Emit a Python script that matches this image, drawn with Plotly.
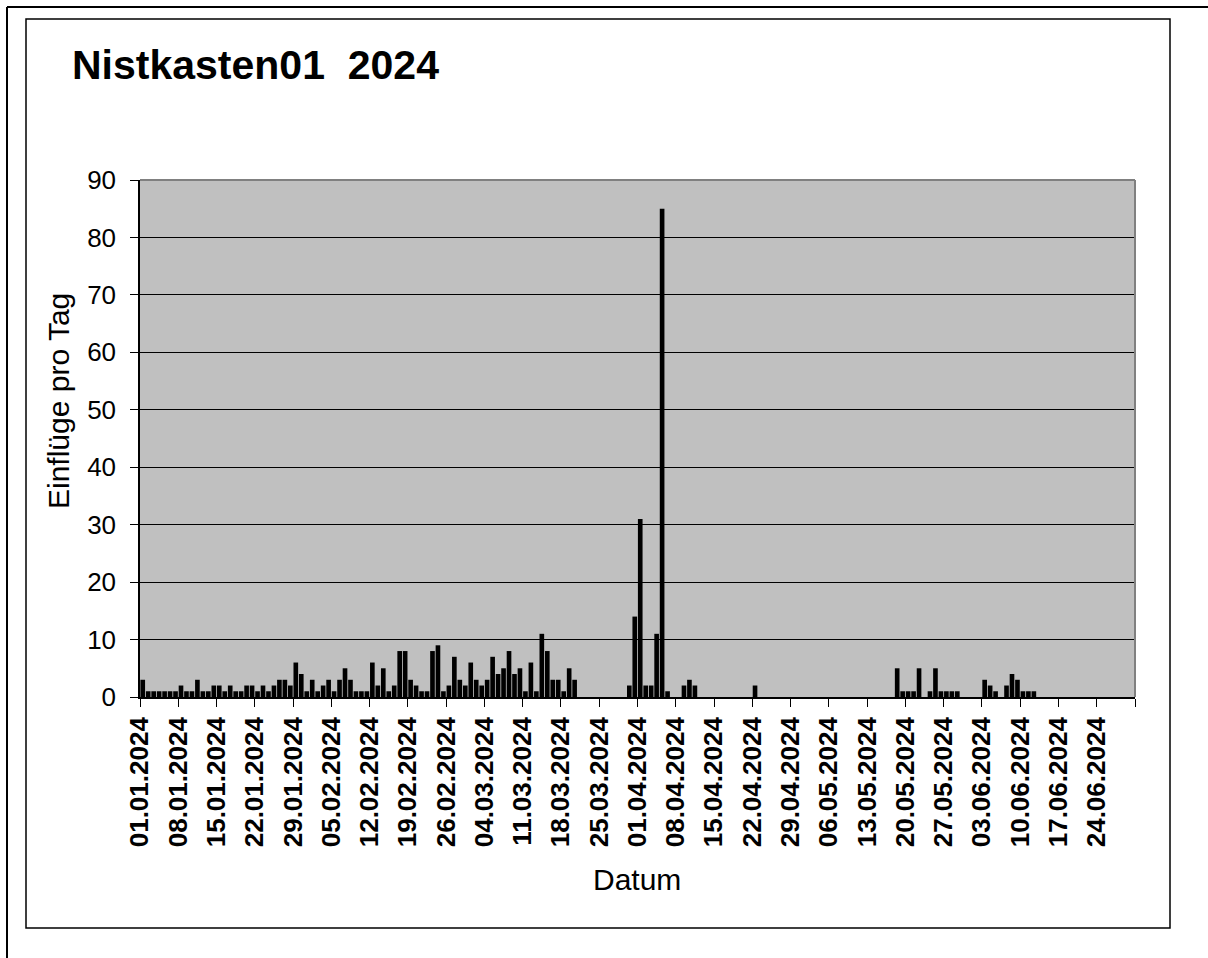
import plotly.graph_objects as go
from datetime import datetime

# Daily counts (days without a bar are 0)
DATES = [
    "2024-01-01", "2024-01-02", "2024-01-03", "2024-01-04", "2024-01-05", "2024-01-06", "2024-01-07",
    "2024-01-08", "2024-01-09", "2024-01-10", "2024-01-11", "2024-01-12", "2024-01-13", "2024-01-14",
    "2024-01-15", "2024-01-16", "2024-01-17", "2024-01-18", "2024-01-19", "2024-01-20", "2024-01-21",
    "2024-01-22", "2024-01-23", "2024-01-24", "2024-01-25", "2024-01-26", "2024-01-27", "2024-01-28",
    "2024-01-29", "2024-01-30", "2024-01-31",
    "2024-02-01", "2024-02-02", "2024-02-03", "2024-02-04", "2024-02-05", "2024-02-06", "2024-02-07",
    "2024-02-08", "2024-02-09", "2024-02-10", "2024-02-11", "2024-02-12", "2024-02-13", "2024-02-14",
    "2024-02-15", "2024-02-16", "2024-02-17", "2024-02-18", "2024-02-19", "2024-02-20", "2024-02-21",
    "2024-02-22", "2024-02-23", "2024-02-24", "2024-02-25", "2024-02-26", "2024-02-27", "2024-02-28",
    "2024-02-29",
    "2024-03-01", "2024-03-02", "2024-03-03", "2024-03-04", "2024-03-05", "2024-03-06", "2024-03-07",
    "2024-03-08", "2024-03-09", "2024-03-10", "2024-03-11", "2024-03-12", "2024-03-13", "2024-03-14",
    "2024-03-15", "2024-03-16", "2024-03-17", "2024-03-18", "2024-03-19", "2024-03-20",
    "2024-03-30", "2024-03-31",
    "2024-04-01", "2024-04-02", "2024-04-03", "2024-04-04", "2024-04-05", "2024-04-06",
    "2024-04-09", "2024-04-10", "2024-04-11", "2024-04-22",
    "2024-05-18", "2024-05-19", "2024-05-20", "2024-05-21", "2024-05-22", "2024-05-24",
    "2024-05-25", "2024-05-26", "2024-05-27", "2024-05-28", "2024-05-29",
    "2024-06-03", "2024-06-04", "2024-06-05", "2024-06-07", "2024-06-08", "2024-06-09",
    "2024-06-10", "2024-06-11", "2024-06-12",
]
COUNTS = [
    3, 1, 1, 1, 1, 1, 1,
    2, 1, 1, 3, 1, 1, 2,
    2, 1, 2, 1, 1, 2, 2,
    1, 2, 1, 2, 3, 3, 2,
    6, 4, 1,
    3, 1, 2, 3, 1, 3, 5,
    3, 1, 1, 1, 6, 2, 5,
    1, 2, 8, 8, 3, 2, 1,
    1, 8, 9, 1, 2, 7, 3,
    2,
    6, 3, 2, 3, 7, 4, 5,
    8, 4, 5, 1, 6, 1, 11,
    8, 3, 3, 1, 5, 3,
    2, 14,
    31, 2, 2, 11, 85, 1,
    2, 3, 2, 2,
    5, 1, 1, 1, 5, 1,
    5, 1, 1, 1, 1,
    3, 2, 1, 2, 4, 3,
    1, 1, 1,
]

TICK_LABELS = [
    "01.01.2024", "08.01.2024", "15.01.2024", "22.01.2024", "29.01.2024",
    "05.02.2024", "12.02.2024", "19.02.2024", "26.02.2024",
    "04.03.2024", "11.03.2024", "18.03.2024", "25.03.2024",
    "01.04.2024", "08.04.2024", "15.04.2024", "22.04.2024", "29.04.2024",
    "06.05.2024", "13.05.2024", "20.05.2024", "27.05.2024",
    "03.06.2024", "10.06.2024", "17.06.2024", "24.06.2024",
]
X_END = "01.07.2024"

TITLE = "Nistkasten01\u00a0 2024"
Y_TITLE = "Einflüge pro Tag"
X_TITLE = "Datum"

FONT = "Liberation Sans, Arial, sans-serif"
W, H = 1208, 958
L, R, T, B = 140, 73, 180, 261  # plot area in pixels


def px_x(px):
    return (px - L) / (W - L - R)


def px_y(py):
    return (H - B - py) / (H - T - B)


tickvals = [datetime.strptime(t, "%d.%m.%Y") for t in TICK_LABELS + [X_END]]
ticktext = TICK_LABELS + [""]

fig = go.Figure(go.Bar(
    x=DATES, y=COUNTS,
    xperiod=86400000, xperiodalignment="middle",
    marker=dict(color="black", line=dict(width=0)),
))

fig.update_layout(
    width=W, height=H,
    margin=dict(l=L, r=R, t=T, b=B),
    paper_bgcolor="white",
    plot_bgcolor="#C0C0C0",
    bargap=0.15,
    showlegend=False,
    font=dict(family=FONT, color="black"),
    title=dict(text=TITLE, x=72 / W, xanchor="left", y=1 - 65 / H, yanchor="middle",
               font=dict(family=FONT, size=41, color="black", weight="bold")),
    xaxis=dict(
        type="date",
        range=[tickvals[0], tickvals[-1]],
        tickmode="array", tickvals=tickvals, ticktext=ticktext,
        tickangle=-90,
        ticks="outside", ticklen=8, tickcolor="black", tickwidth=1,
        tickfont=dict(size=26, weight="bold"),
        showline=True, linecolor="black", linewidth=1.5,
        showgrid=False, zeroline=False,
    ),
    yaxis=dict(
        range=[0, 90], dtick=10,
        ticks="outside", ticklen=8, tickcolor="black", tickwidth=1,
        tickfont=dict(size=26),
        ticklabelstandoff=9,
        showline=True, linecolor="black", linewidth=1.5,
        showgrid=True, gridcolor="black", gridwidth=1,
        zeroline=False,
    ),
    annotations=[
        dict(text=X_TITLE, xref="paper", yref="paper", x=px_x(637), y=px_y(879),
             xanchor="center", yanchor="middle", showarrow=False, font=dict(size=30)),
        dict(text=Y_TITLE, xref="paper", yref="paper", x=px_x(58), y=px_y(401),
             xanchor="center", yanchor="middle", textangle=-90, showarrow=False,
             font=dict(size=30)),
    ],
    shapes=[
        # plot area border (top / right)
        dict(type="line", xref="paper", yref="paper", x0=0, x1=1, y0=1, y1=1,
             line=dict(color="#808080", width=2), layer="above"),
        dict(type="line", xref="paper", yref="paper", x0=1, x1=1, y0=0, y1=1,
             line=dict(color="#808080", width=2), layer="above"),
        # chart frame
        dict(type="rect", xref="paper", yref="paper",
             x0=px_x(26), x1=px_x(1170), y0=px_y(928), y1=px_y(19),
             line=dict(color="black", width=1.5)),
        # outer frame
        dict(type="line", xref="paper", yref="paper",
             x0=px_x(7), x1=px_x(1208), y0=px_y(7), y1=px_y(7),
             line=dict(color="black", width=2)),
        dict(type="line", xref="paper", yref="paper",
             x0=px_x(7), x1=px_x(7), y0=px_y(7), y1=px_y(958),
             line=dict(color="black", width=2)),
    ],
)

fig.write_html("out.html", config={"displayModeBar": False},
               post_script="document.body.style.margin='0';")
